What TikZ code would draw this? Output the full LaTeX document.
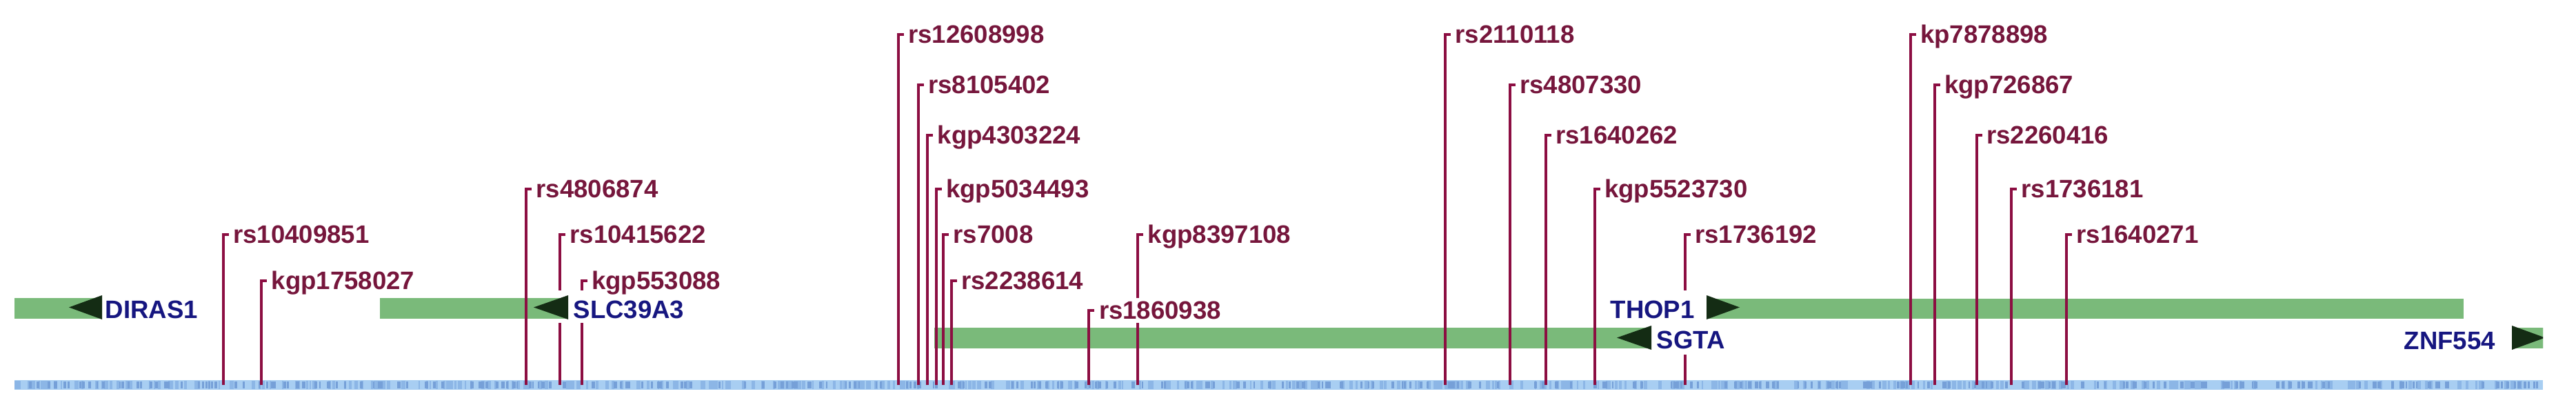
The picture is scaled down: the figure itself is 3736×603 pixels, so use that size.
\documentclass[tikz,border=0pt]{standalone}
\usepackage{fontspec}
\setmainfont{Liberation Sans}
\definecolor{barg}{RGB}{122,186,122}
\definecolor{arrg}{RGB}{20,44,20}
\definecolor{genetxt}{RGB}{22,22,128}
\definecolor{snpl}{RGB}{140,14,66}
\definecolor{snpt}{RGB}{118,22,60}
\definecolor{trk}{RGB}{168,206,242}
\definecolor{trkd}{RGB}{118,160,216}
\definecolor{trkm}{RGB}{140,182,230}
\begin{document}
\begin{tikzpicture}[x=0.01cm,y=-0.01cm,
  snpline/.style={draw=snpl,line width=0.04cm,line join=miter},
  snplab/.style={fill=white,text=snpt,font=\fontsize{10.4}{12}\selectfont\bfseries,inner xsep=0.02cm,inner ysep=0.05cm,anchor=base west},
  genelab/.style={fill=white,text=genetxt,font=\fontsize{10.4}{12}\selectfont\bfseries,inner xsep=0.02cm,inner ysep=0.05cm,anchor=base west},
  genebar/.style={fill=barg},
  genearrow/.style={fill=arrg},
  halo/.style={fill=white}]
\useasboundingbox (0,0) rectangle (3736,603);
\fill[white] (0,0) rectangle (3736,603);
% track and gene bars
\begin{scope}
\clip (21,0) rectangle (3688,603);
\fill[trk] (21,551) rectangle (3688,565);
\pgfmathsetseed{11}
\foreach \i in {1,...,450}{%
  \pgfmathsetmacro{\tx}{21+3667*rnd}%
  \pgfmathsetmacro{\tw}{2+4*rnd}%
  \fill[trkm] (\tx,552) rectangle ++(\tw,12);}
\foreach \i in {1,...,320}{%
  \pgfmathsetmacro{\tx}{21+3667*rnd}%
  \pgfmathsetmacro{\tw}{2+3*rnd}%
  \fill[trkd] (\tx,553) rectangle ++(\tw,10);}
\fill[genebar] (0,432) rectangle (148,462);
\fill[genebar] (551,432) rectangle (824,462);
\fill[genebar] (1355,475) rectangle (2395,505);
\fill[genebar] (2475,433) rectangle (3573,462);
\fill[genebar] (3643,475) rectangle (3760,505);
\end{scope}
% SNP lines
\foreach \n/\x/\y in {1/323.5/340,2/379/407,3/763/274,4/812/340,5/843.5/407,
  6/1302.5/50,7/1331.5/123,8/1345/196,9/1357.5/274,10/1368/340,11/1379.5/407,
  12/1579.3/450,13/1650/340,14/2096/50,15/2189.5/123,16/2241.5/196,17/2312.5/274,
  18/2443.5/340,19/2770.5/50,20/2805.5/123,21/2866.5/196,22/2917/274,23/2997/340}{%
  \coordinate (b\n) at (\x,558);
  \coordinate (h\n) at (\x,\y);
  \draw[snpline] (b\n) -- (h\n) -- ++(8,0);}
% gene arrows with white halos
\begin{scope}
\clip (21,0) rectangle (3688,603);
\fill[halo] (100,421) rectangle (290,468);
\fill[genebar] (100,432) rectangle (148,462);
\fill[genearrow] (148,428) -- (100,445.5) -- (148,463) -- cycle;
\fill[halo] (774,421) rectangle (999,468);
\fill[genebar] (774,432) rectangle (824,462);
\fill[genearrow] (824,428) -- (774,445.5) -- (824,463) -- cycle;
\fill[halo] (2334,421) rectangle (2523,468);
\fill[genebar] (2475,433) rectangle (2523,462);
\fill[genearrow] (2475,428) -- (2523,445.5) -- (2475,463) -- cycle;
\fill[halo] (2345,468) rectangle (2506,514);
\fill[genebar] (2345,475) rectangle (2395,505);
\fill[genearrow] (2395,472) -- (2345,489.5) -- (2395,507) -- cycle;
\fill[halo] (3485,468) rectangle (3690,514);
\fill[genebar] (3643,475) rectangle (3700,505);
\fill[genearrow] (3643,472) -- (3691,489.5) -- (3643,507) -- cycle;
\end{scope}
% gene labels
\node[genelab] (gDIRAS) at (150,461.7) {DIRAS1};
\node[genelab] (gSLC) at (829,461.7) {SLC39A3};
\node[genelab] (gTHOP) at (2333,461.7) {THOP1};
\node[genelab] (gSGTA) at (2400,505.5) {SGTA};
\node[genelab] (gZNF) at (3484,506.5) {ZNF554};
% SNP labels
\foreach \n/\x/\y/\t in {1/323.5/340/rs10409851,2/379/407/kgp1758027,3/763/274/rs4806874,
  4/812/340/rs10415622,5/843.5/407/kgp553088,6/1302.5/50/rs12608998,7/1331.5/123/rs8105402,
  8/1345/196/kgp4303224,9/1357.5/274/kgp5034493,10/1368/340/rs7008,11/1379.5/407/rs2238614,
  12/1579.3/450/rs1860938,13/1650/340/kgp8397108,14/2096/50/rs2110118,15/2189.5/123/rs4807330,
  16/2241.5/196/rs1640262,17/2312.5/274/kgp5523730,18/2443.5/340/rs1736192,19/2770.5/50/kp7878898,
  20/2805.5/123/kgp726867,21/2866.5/196/rs2260416,22/2917/274/rs1736181,23/2997/340/rs1640271}{%
  \node[snplab] (l\n) at (\x+12,\y+12.5) {\t};}
\end{tikzpicture}
\end{document}
